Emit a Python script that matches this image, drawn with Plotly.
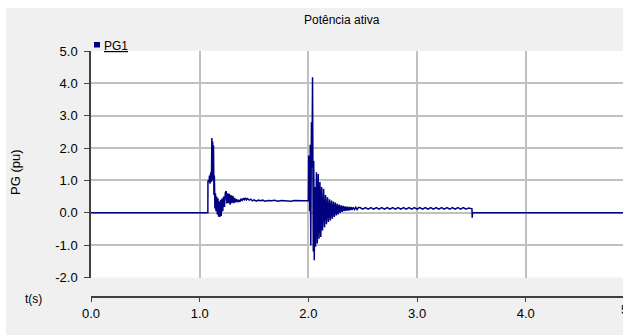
import plotly.graph_objects as go

# ---- data ----
time_s = [
    0.000, 1.075,
    1.076, 1.085, 1.090, 1.095, 1.100, 1.106, 1.108, 1.112, 1.115, 1.119, 1.123, 1.127,
    1.131, 1.135, 1.140, 1.145, 1.150, 1.156, 1.162, 1.168, 1.174, 1.180, 1.186, 1.192,
    1.198, 1.205, 1.212, 1.220, 1.228, 1.236, 1.244, 1.250, 1.258, 1.265, 1.272, 1.280,
    1.288, 1.296, 1.305, 1.314, 1.322, 1.330, 1.340, 1.350, 1.360, 1.370, 1.380, 1.390,
    1.400, 1.410, 1.420, 1.430, 1.440, 1.455, 1.470, 1.485, 1.500, 1.520, 1.540, 1.560,
    1.580, 1.600, 1.630, 1.660, 1.690, 1.720, 1.750, 1.780, 1.810, 1.840, 1.870, 1.900,
    1.930, 1.960, 2.000,
    2.003, 2.009, 2.012, 2.017, 2.022, 2.028, 2.033, 2.038, 2.045, 2.049, 2.054, 2.060,
    2.066, 2.074, 2.082, 2.090, 2.098, 2.106, 2.114, 2.122, 2.130, 2.140, 2.148, 2.158,
    2.166, 2.176, 2.184, 2.194, 2.202, 2.212, 2.220, 2.230, 2.238, 2.248, 2.256, 2.266,
    2.274, 2.284, 2.292, 2.302, 2.310, 2.320, 2.328, 2.338, 2.346, 2.356, 2.364, 2.374,
    2.382, 2.392, 2.400, 2.412, 2.424, 2.436, 2.448, 2.460,
    2.475, 2.500, 2.525, 2.550, 2.575, 2.600, 2.625, 2.650, 2.675, 2.700, 2.725, 2.750,
    2.775, 2.800, 2.825, 2.850, 2.875, 2.900, 2.925, 2.950, 2.975, 3.000, 3.025, 3.050,
    3.075, 3.100, 3.125, 3.150, 3.175, 3.200, 3.225, 3.250, 3.275, 3.300, 3.325, 3.350,
    3.375, 3.400, 3.425, 3.450, 3.475, 3.500, 3.505, 3.507, 3.510, 5.000,
]
pg1_pu = [
    0.00, 0.00,
    1.00, 0.95, 1.15, 0.90, 1.20, 1.26, 0.95, 2.31, 1.00, 2.20, 1.05, 2.09,
    0.55, 1.15, 0.13, 0.60, 0.05, 0.50, -0.05, 0.45, -0.12, 0.35, -0.13, 0.40,
    -0.10, 0.44, 0.05, 0.50, 0.18, 0.62, 0.67, 0.29, 0.60, 0.30, 0.59, 0.25,
    0.55, 0.30, 0.52, 0.30, 0.46, 0.32, 0.42, 0.33, 0.40, 0.34, 0.42, 0.38,
    0.45, 0.40, 0.46, 0.40, 0.44, 0.39, 0.42, 0.37, 0.40, 0.36, 0.39, 0.37,
    0.39, 0.36, 0.38, 0.37, 0.39, 0.36, 0.38, 0.37, 0.38, 0.36, 0.38, 0.37,
    0.38, 0.37, 0.38,
    1.77, 1.65, 0.05, 2.10, -1.00, 2.80, 1.40, 4.19, -1.20, 1.60, -1.47, 0.80,
    -1.05, 1.25, -0.95, 1.20, -0.80, 0.95, -0.75, 0.80, -0.55, 0.74, -0.45, 0.55,
    -0.35, 0.48, -0.28, 0.42, -0.24, 0.38, -0.18, 0.35, -0.13, 0.32, -0.08, 0.28,
    -0.05, 0.25, 0.00, 0.23, 0.03, 0.21, 0.05, 0.20, 0.06, 0.19, 0.07, 0.18,
    0.08, 0.18, 0.09, 0.17, 0.10, 0.17, 0.10, 0.16,
    0.16, 0.11, 0.16, 0.11, 0.16, 0.11, 0.16, 0.11, 0.16, 0.11, 0.16, 0.11,
    0.16, 0.11, 0.16, 0.11, 0.16, 0.11, 0.16, 0.11, 0.16, 0.11, 0.16, 0.11,
    0.16, 0.11, 0.16, 0.11, 0.16, 0.11, 0.16, 0.11, 0.16, 0.11, 0.16, 0.11,
    0.16, 0.11, 0.16, 0.11, 0.15, 0.13, 0.12, -0.15, 0.00, 0.00,
]
x_ticks = [0, 1, 2, 3, 4, 5]
x_tick_labels = ["0.0", "1.0", "2.0", "3.0", "4.0", "5.0"]
y_ticks = [-2, -1, 0, 1, 2, 3, 4, 5]
y_tick_labels = ["-2.0", "-1.0", "0.0", "1.0", "2.0", "3.0", "4.0", "5.0"]
series_name = "PG1"
chart_title = "Potência ativa"
y_title = "PG (pu)"
x_title = "t(s)"

# ---- layout geometry (pixels) ----
W, H = 623, 335
px = lambda v: v / W
py = lambda v: (H - v) / H

FONT = "Liberation Sans, Arial, sans-serif"
LINE_COLOR = "#000080"
AXIS_COLOR = "#404040"
GRID_COLOR = "#c0c0c0"

fig = go.Figure()
fig.add_trace(go.Scatter(
    x=time_s, y=pg1_pu, mode="lines", name=series_name,
    line=dict(color=LINE_COLOR, width=1.5), showlegend=False,
))

x_left = 91
unit_x = 108.7
fig.update_layout(
    width=W, height=H,
    margin=dict(l=0, r=0, t=0, b=0, pad=0, autoexpand=False),
    paper_bgcolor="#f0f0f0",
    plot_bgcolor="white",
    showlegend=False,
    font=dict(family=FONT, size=13, color="black"),
    xaxis=dict(
        domain=[px(x_left), 1],
        range=[0, (W - x_left) / unit_x],
        anchor="free", position=py(296.5),
        tickvals=x_ticks, ticktext=x_tick_labels,
        showline=True, linecolor=AXIS_COLOR, linewidth=1.5,
        ticks="outside", ticklen=5, tickcolor=AXIS_COLOR,
        showgrid=True, gridcolor=GRID_COLOR, gridwidth=1.5,
        zeroline=False, tickfont=dict(size=13), automargin=False,
    ),
    yaxis=dict(
        domain=[py(277.5), py(51)],
        range=[-2, 5],
        anchor="x",
        tickvals=y_ticks, ticktext=y_tick_labels,
        showline=True, linecolor=AXIS_COLOR, linewidth=1.5,
        ticks="outside", ticklen=5, tickcolor=AXIS_COLOR,
        showgrid=True, gridcolor=GRID_COLOR, gridwidth=1.5,
        zeroline=False, tickfont=dict(size=13), automargin=False,
        ticklabelstandoff=4,
    ),
    shapes=[
        dict(type="rect", xref="paper", yref="paper", x0=0, x1=1, y0=py(8), y1=1,
             fillcolor="white", line=dict(width=0), layer="above"),
        dict(type="rect", xref="paper", yref="paper", x0=0, x1=px(6), y0=0, y1=1,
             fillcolor="white", line=dict(width=0), layer="above"),
        dict(type="rect", xref="paper", yref="paper", x0=px(94), x1=px(100),
             y0=py(47.5), y1=py(42), fillcolor=LINE_COLOR, line=dict(width=0)),
    ],
    annotations=[
        dict(text=chart_title, xref="paper", yref="paper", x=px(342), y=py(20),
             xanchor="center", yanchor="middle", showarrow=False, font=dict(size=12)),
        dict(text="<u>" + series_name + "</u>", xref="paper", yref="paper",
             x=px(102), y=py(46), xanchor="left", yanchor="middle", showarrow=False,
             font=dict(size=12)),
        dict(text=y_title, xref="paper", yref="paper", x=px(15), y=py(172),
             xanchor="center", yanchor="middle", textangle=-90, showarrow=False,
             font=dict(size=13)),
        dict(text=x_title, xref="paper", yref="paper", x=px(33), y=py(299),
             xanchor="center", yanchor="middle", showarrow=False, font=dict(size=12)),
        dict(text=x_tick_labels[-1], xref="paper", yref="paper", x=px(619), y=py(309),
             xanchor="left", yanchor="middle", showarrow=False, font=dict(size=13)),
    ],
)

fig.write_html("out.html")
